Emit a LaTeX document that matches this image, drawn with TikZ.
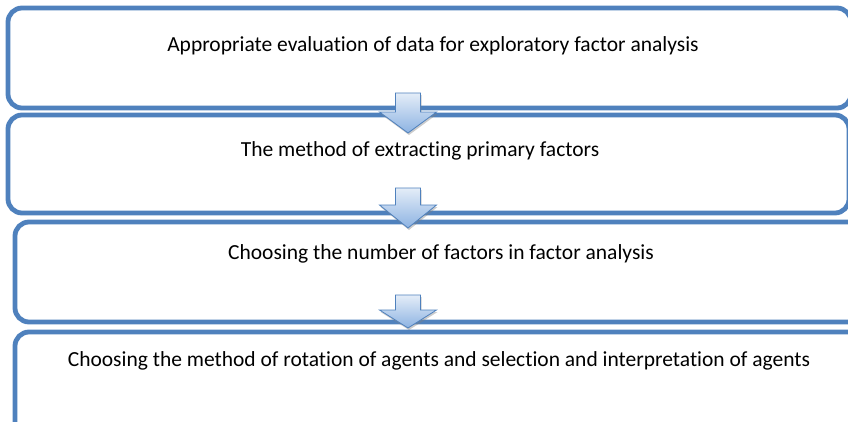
\documentclass[tikz,border=0pt]{standalone}
\usepackage{fontspec}
\setmainfont{Carlito}[Ligatures=NoCommon]
\usetikzlibrary{shadows}
\definecolor{boxblue}{HTML}{4F81BD}
\definecolor{arrtop}{HTML}{E4EDF8}
\definecolor{arrbot}{HTML}{8DB3E2}
\tikzset{
  stage/.style={draw=boxblue, line width=4.8pt, rounded corners=14pt, fill=white,
     rectangle, inner sep=0pt},
  lbl/.style={font=\fontsize{21.5}{26}\selectfont, text=black, inner sep=0pt},
  blockarrow/.style={draw=boxblue, line width=0.8pt, top color=arrtop, bottom color=arrbot,
     drop shadow={shadow xshift=1pt, shadow yshift=-2pt, opacity=0.4}}
}
\begin{document}
\begin{tikzpicture}[x=1pt,y=-1pt]
\useasboundingbox (0,0) rectangle (848,421);
\begin{scope}
\clip (0,0) rectangle (848,421);
% boxes
\node[stage, minimum width=843pt, minimum height=100pt] (s1) at (429.5,58) {};
\node[stage, minimum width=841pt, minimum height=98pt] (s2) at (428.5,164) {};
\node[stage, minimum width=847pt, minimum height=100pt] (s3) at (438.5,272) {};
\node[stage, minimum width=847pt, minimum height=108pt] (s4) at (438.5,386) {};
% texts
\node[lbl] (t1) at (433,46) {Appropriate evaluation of data for exploratory factor analysis};
\node[lbl] (t2) at (420,151) {The method of extracting primary factors};
\node[lbl] (t3) at (441,254) {Choosing the number of factors in factor analysis};
\node[lbl] (t4) at (439,361) {Choosing the method of rotation of agents and selection and interpretation of agents};
% arrows
\newcommand{\blockarr}[4]{% x center, top, head start, tip
  \path[blockarrow] (#1-12.5,#2) -- (#1+12.5,#2) -- (#1+12.5,#3) -- (#1+28.5,#3) -- (#1,#4)
     -- (#1-28.5,#3) -- (#1-12.5,#3) -- cycle;}
\blockarr{408}{93}{112}{133}
\blockarr{408}{188}{205}{228}
\blockarr{408}{295}{310}{328}
\end{scope}
\end{tikzpicture}
\end{document}
